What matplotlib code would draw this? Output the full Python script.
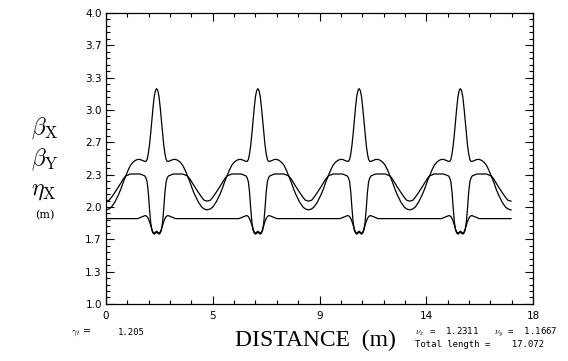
import numpy as np
import matplotlib
matplotlib.use('Agg')
import matplotlib.pyplot as plt
from matplotlib.ticker import FixedLocator, MultipleLocator

# lattice functions: one half cell, from cell edge to cell centre
total_length = 17.072
n_cells = 4
half_d = [2.134, 2.0, 1.9, 1.76, 1.6, 1.5, 1.4, 1.3, 1.2, 1.1, 1.0, 0.9, 0.8,
          0.7, 0.6, 0.5, 0.45, 0.4, 0.35, 0.3, 0.25, 0.2, 0.15, 0.1, 0.05, 0.0]
beta_x = [1.97, 1.98, 2.00, 2.05, 2.13, 2.19, 2.26, 2.32, 2.38, 2.43, 2.46, 2.48, 2.49,
          2.49, 2.48, 2.47, 2.47, 2.49, 2.55, 2.64, 2.76, 2.90, 3.03, 3.14, 3.20, 3.22]
beta_y = [2.06, 2.07, 2.10, 2.15, 2.21, 2.25, 2.29, 2.32, 2.33, 2.34, 2.34, 2.34, 2.34,
          2.34, 2.33, 2.32, 2.30, 2.26, 2.15, 1.98, 1.84, 1.76, 1.73, 1.72, 1.73, 1.74]
eta_x = [1.88, 1.88, 1.88, 1.88, 1.88, 1.88, 1.88, 1.88, 1.88, 1.88, 1.88, 1.88, 1.88,
         1.89, 1.90, 1.91, 1.91, 1.90, 1.88, 1.85, 1.81, 1.77, 1.74, 1.73, 1.74, 1.75]

x_ticks = [0, 4.5, 9, 13.5, 18]
x_ticklabels = ['0', '5', '9', '14', '18']
y_ticks = [1 + k / 3 for k in range(10)]
y_ticklabels = ['1.0', '1.3', '1.7', '2.0', '2.3', '2.7', '3.0', '3.3', '3.7', '4.0']


def full_curve(vals):
    # mirror the half cell, then repeat the cell along the line
    cell = total_length / n_cells
    d = np.array(half_d)
    v = np.array(vals)
    d_cell = np.concatenate([-d, d[::-1][1:]]) + cell / 2
    v_cell = np.concatenate([v, v[::-1][1:]])
    xs, ys = [], []
    for k in range(n_cells):
        xs.append(d_cell + k * cell)
        ys.append(v_cell)
    return np.concatenate(xs), np.concatenate(ys)


fig = plt.figure(figsize=(5.68, 3.61), dpi=100)
ax = fig.add_axes([0.1866, 0.158, 0.7518, 0.806])

for vals in (beta_x, beta_y, eta_x):
    s, f = full_curve(vals)
    ax.plot(s, f, color='black', lw=0.9)

ax.set_xlim(0, 18)
ax.set_ylim(1, 4)
ax.xaxis.set_major_locator(FixedLocator(x_ticks))
ax.set_xticklabels(x_ticklabels)
ax.xaxis.set_minor_locator(MultipleLocator(0.9))
ax.yaxis.set_major_locator(FixedLocator(y_ticks))
ax.set_yticklabels(y_ticklabels)
ax.yaxis.set_minor_locator(MultipleLocator(1 / 15))
ax.tick_params(which='both', direction='in', top=True, right=True, width=0.8,
               labelsize=7.5, colors='black')
ax.tick_params(which='major', length=6)
ax.tick_params(which='minor', length=3)
ax.tick_params(axis='x', pad=5)
ax.tick_params(axis='y', pad=3)
for sp in ax.spines.values():
    sp.set_linewidth(0.9)

plt.rcParams['mathtext.fontset'] = 'cm'
fig.text(0.055, 0.645, r'$\beta_{\rm X}$', fontsize=17, va='center')
fig.text(0.055, 0.560, r'$\beta_{\rm Y}$', fontsize=17, va='center')
fig.text(0.055, 0.473, r'$\eta_{\rm X}$', fontsize=17, va='center')
fig.text(0.062, 0.403, '(m)', fontsize=8, family='DejaVu Serif', va='center')

fig.text(0.556, 0.058, 'DISTANCE  (m)', fontsize=17, family='Liberation Serif',
         ha='center', va='center')

fig.text(0.125, 0.078, r'$\gamma_t$ =', fontsize=7, va='center')
fig.text(0.207, 0.078, '1.205', fontsize=6.5, family='DejaVu Sans Mono', va='center')
fig.text(0.73, 0.078, r'$\nu_x$ =  1.2311   $\nu_y$ =  1.1667', fontsize=6.5,
         family='DejaVu Sans Mono', va='center')
fig.text(0.73, 0.045, 'Total length =    17.072', fontsize=6.5,
         family='DejaVu Sans Mono', va='center')

fig.savefig('out.png', dpi=100)
